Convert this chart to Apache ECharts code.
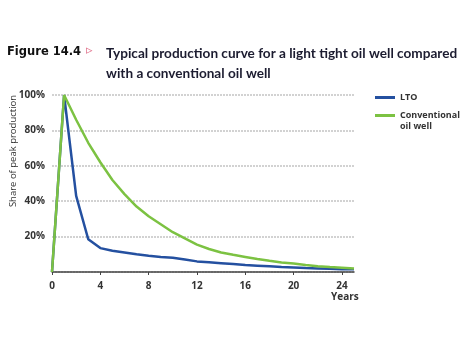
<!DOCTYPE html>
<html>
<head>
  <meta charset="utf-8">
  <title>Figure 14.4</title>
  <script src="https://cdn.jsdelivr.net/npm/echarts@6/dist/echarts.min.js"></script>
  <style>
    html, body { margin: 0; padding: 0; background: #fff; }
  </style>
</head>
<body>
  <div id="main" style="width: 468px;height:351px;"></div>
  <script type="text/javascript">
    // years since first production
    var years = [0, 1, 2, 3, 4, 5, 6, 7, 8, 9, 10, 11, 12, 13, 14, 15, 16, 17, 18, 19, 20, 21, 22, 23, 24, 25];
    // share of peak production (%)
    var lto = [0, 100, 43, 18.5, 13.5, 12, 11, 10, 9.2, 8.5, 8, 7, 6, 5.5, 5, 4.5, 4, 3.6, 3.2, 2.8, 2.5, 2.2, 2, 1.8, 1.6, 1.5];
    var conventional = [0, 100, 86, 73, 62, 52, 44, 37, 31.5, 27, 22.5, 19, 15.5, 13, 11, 9.7, 8.5, 7.3, 6.3, 5.4, 4.8, 4, 3.3, 2.8, 2.4, 2];
    var xTicks = [0, 4, 8, 12, 16, 20, 24];

    function pairs(ys) {
      return years.map(function (x, i) { return [x, ys[i]]; });
    }

    var myChart = echarts.init(document.getElementById('main'));
    myChart.setOption({
      backgroundColor: '#ffffff',
      animation: false,
      grid: { left: 52, right: 114, top: 95, bottom: 79, containLabel: false, outerBoundsMode: 'none' },
      graphic: [
        { type: 'text', left: 7, top: 46, style: { text: 'Figure 14.4', font: 'bold 11.5px "DejaVu Sans"', fill: '#111' } },
        { type: 'text', left: 86, top: 44, style: { text: '▹', font: 'bold 13px "DejaVu Sans"', fill: '#e0708a' } },
        { type: 'text', left: 106, top: 44, style: { text: 'Typical production curve for a light tight oil well compared\nwith a conventional oil well', font: 'bold 13.6px Lato', fill: '#1c1c30', lineHeight: 20 } },
        { type: 'text', left: 331, top: 292, style: { text: 'Years', font: 'bold 10px "Open Sans"', fill: '#333' } },
        // y axis title, placed beside the upper part of the axis as in the original
        { type: 'text', x: 13, y: 151, rotation: Math.PI / 2, style: { text: 'Share of peak production', font: '9.5px "Open Sans"', fill: '#333', align: 'center', verticalAlign: 'middle' } }
      ],
      legend: {
        orient: 'vertical',
        left: 375,
        top: 92,
        padding: 0,
        itemWidth: 20,
        itemHeight: 3,
        itemGap: -4,
        icon: 'rect',
        textStyle: { fontFamily: 'Open Sans', fontWeight: 'bold', fontSize: 9, color: '#333', lineHeight: 11 },
        // blank first line keeps the icon level with "Conventional"
        formatter: function (name) { return name === 'Conventional oil well' ? ' \nConventional\noil well' : name; },
        data: ['LTO', 'Conventional oil well']
      },
      xAxis: {
        type: 'value',
        min: 0,
        max: 25,
        interval: 4,
        axisLine: { show: true, lineStyle: { color: '#444', width: 1.5 } },
        axisTick: { show: true, length: 3, lineStyle: { color: '#444' }, customValues: xTicks },
        axisLabel: { color: '#333', fontFamily: 'Open Sans', fontWeight: 'bold', fontSize: 10, margin: 9, customValues: xTicks },
        splitLine: { show: false }
      },
      yAxis: {
        type: 'value',
        min: 0,
        max: 100,
        interval: 20,
        axisLine: { show: false },
        axisTick: { show: false },
        axisLabel: {
          color: '#333', fontFamily: 'Open Sans', fontWeight: 'bold', fontSize: 10, margin: 7,
          showMinLabel: false,
          formatter: '{value}%'
        },
        splitLine: { show: true, lineStyle: { color: '#c4c4c4', type: [2, 1], width: 1.5 } }
      },
      series: [
        {
          name: 'LTO',
          type: 'line',
          data: pairs(lto),
          symbol: 'none',
          itemStyle: { color: '#2450a0' },
          lineStyle: { color: '#2450a0', width: 2.5 }
        },
        {
          name: 'Conventional oil well',
          type: 'line',
          data: pairs(conventional),
          symbol: 'none',
          itemStyle: { color: '#7cc242' },
          lineStyle: { color: '#7cc242', width: 2.5 },
          z: 3
        }
      ]
    });
  </script>
</body>
</html>
